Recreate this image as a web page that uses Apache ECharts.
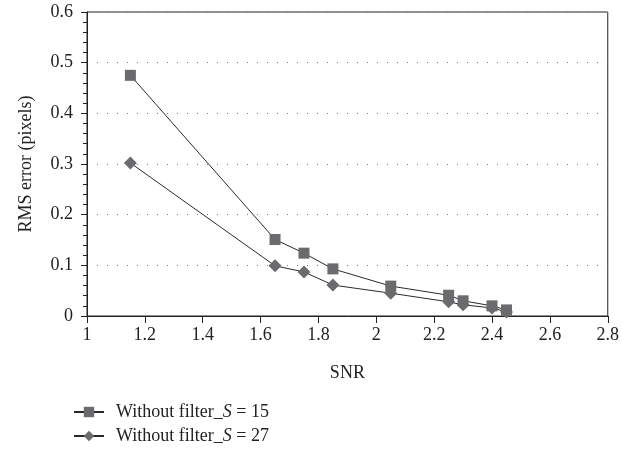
<!DOCTYPE html>
<html><head><meta charset="utf-8">
<script src="https://cdn.jsdelivr.net/npm/echarts@6/dist/echarts.min.js"></script>
<style>html,body{margin:0;padding:0;background:#fff}#c{width:622px;height:451px}</style>
</head><body><div id="c"></div>
<script>
const snr = [1.15, 1.65, 1.75, 1.85, 2.05, 2.25, 2.3, 2.4, 2.45];
const s15 = [0.475, 0.151, 0.124, 0.093, 0.059, 0.041, 0.030, 0.020, 0.012];
const s27 = [0.302, 0.099, 0.087, 0.061, 0.045, 0.028, 0.022, 0.016, 0.008];
const xTicks = [1, 1.2, 1.4, 1.6, 1.8, 2, 2.2, 2.4, 2.6, 2.8];
const yTicks = [0, 0.1, 0.2, 0.3, 0.4, 0.5, 0.6];
const names = ['Without filter_S = 15', 'Without filter_S = 27'];

const font = 'Liberation Serif';
const fs = 18;
const chart = echarts.init(document.getElementById('c'));
const pair = (xs, ys) => xs.map((x, i) => [x, ys[i]]);
chart.setOption({
  animation: false,
  grid: {left: 87, right: 13, top: 12, bottom: 135, show: true, borderColor: '#222', borderWidth: 1},
  xAxis: {
    type: 'value', min: xTicks[0], max: xTicks[xTicks.length - 1], interval: 0.2,
    name: 'SNR', nameLocation: 'middle', nameGap: 48,
    nameTextStyle: {fontFamily: font, fontSize: fs, color: '#222'},
    axisLine: {lineStyle: {color: '#222', width: 1}},
    axisTick: {show: true, length: 7, lineStyle: {color: '#222'}},
    axisLabel: {fontFamily: font, fontSize: fs, color: '#222', margin: 10,
      formatter: v => String(Math.round(v * 10) / 10)},
    splitLine: {show: false}
  },
  yAxis: {
    type: 'value', min: yTicks[0], max: yTicks[yTicks.length - 1], interval: 0.1,
    name: 'RMS error (pixels)', nameLocation: 'middle', nameGap: 52,
    nameTextStyle: {fontFamily: font, fontSize: fs, color: '#222'},
    axisLine: {show: true, lineStyle: {color: '#222', width: 1}},
    axisTick: {show: true, length: 6, lineStyle: {color: '#222'}},
    minorTick: {show: true, splitNumber: 5, length: 4, lineStyle: {color: '#222'}},
    axisLabel: {fontFamily: font, fontSize: fs, color: '#222', margin: 14,
      formatter: v => String(Math.round(v * 10) / 10)},
    splitLine: {show: true, lineStyle: {color: '#777', width: 1, type: [1, 9]}}
  },
  legend: {
    orient: 'vertical', left: 73, top: 403, padding: 0, itemGap: 6, itemWidth: 30, itemHeight: 13,
    data: names,
    formatter: n => {
      const num = n.split('= ')[1];
      return '{t|Without filter_}{i|S}{t| = ' + num + '}';
    },
    textStyle: {
      fontFamily: font, fontSize: fs, color: '#222', padding: [0, 0, 0, 7],
      rich: {t: {fontFamily: font, fontSize: fs, color: '#222'},
             i: {fontFamily: font, fontSize: fs, color: '#222', fontStyle: 'italic'}}
    }
  },
  series: [
    {name: names[0], type: 'line', data: pair(snr, s15), symbol: 'rect', symbolSize: 11,
     itemStyle: {color: '#6b6b6d'}, lineStyle: {color: '#2a2a2a', width: 1}},
    {name: names[1], type: 'line', data: pair(snr, s27), symbol: 'diamond', symbolSize: 13,
     itemStyle: {color: '#6b6b6d'}, lineStyle: {color: '#2a2a2a', width: 1}}
  ]
});
</script></body></html>
